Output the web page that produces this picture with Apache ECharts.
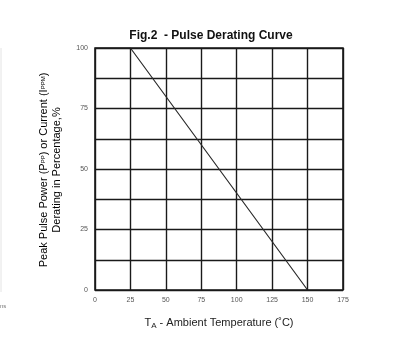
<!DOCTYPE html>
<html>
<head>
<meta charset="utf-8">
<script src="https://cdn.jsdelivr.net/npm/echarts@6/dist/echarts.min.js"></script>
<style>
  html, body { margin: 0; padding: 0; background: #fff; }
  #chart { width: 408px; height: 354px; }
</style>
</head>
<body>
<div id="chart"></div>
<script>
// temperature (°C) vs derating (%)
var temps = [0, 25, 150];
var derating = [100, 100, 0];
var xTicks = [0, 25, 50, 75, 100, 125, 150, 175];
var yTicks = [0, 25, 50, 75, 100];

var chart = echarts.init(document.getElementById('chart'));

var points = temps.map(function (t, i) { return [t, derating[i]]; });

var option = {
    backgroundColor: '#fff',
    animation: false,
    title: {
        text: 'Fig.2  - Pulse Derating Curve',
        left: 206,
        top: 25,
        textAlign: 'center',
        textStyle: { fontFamily: 'Liberation Sans', fontSize: 12, fontWeight: 'bold', color: '#111' }
    },
    grid: { left: 95, right: 65, top: 48, bottom: 64 },
    xAxis: {
        type: 'value',
        min: 0,
        max: 175,
        interval: 25,
        axisLine: { show: false },
        axisTick: { show: false },
        axisLabel: {
            margin: 7,
            fontFamily: 'Liberation Sans',
            fontSize: 7,
            color: '#555',
            formatter: function (v) { return xTicks.indexOf(v) >= 0 ? v : ''; }
        },
        splitLine: { show: true, lineStyle: { color: '#1a1a1a', width: 1.4 } },
        name: '{t|T}{s|A}{t| - Ambient Temperature (˚C)}',
        nameLocation: 'middle',
        nameGap: 26,
        nameTextStyle: {
            rich: {
                t: { fontFamily: 'Liberation Sans', fontSize: 11, color: '#222' },
                s: { fontFamily: 'Liberation Sans', fontSize: 8, color: '#222', verticalAlign: 'bottom', padding: [6, 0, 0, 0] }
            }
        }
    },
    yAxis: {
        type: 'value',
        min: 0,
        max: 100,
        interval: 12.5,
        axisLine: { show: false },
        axisTick: { show: false },
        axisLabel: {
            margin: 7,
            fontFamily: 'Liberation Sans',
            fontSize: 7,
            color: '#555',
            formatter: function (v) { return yTicks.indexOf(v) >= 0 ? v : ''; }
        },
        splitLine: { show: true, lineStyle: { color: '#1a1a1a', width: 1.4 } }
    },
    series: [{
        type: 'line',
        data: points,
        symbol: 'none',
        lineStyle: { color: '#2a2a2a', width: 1.2 },
        z: 3
    }],
    graphic: [
        {
            type: 'rect',
            shape: { x: 95, y: 48, width: 248, height: 242 },
            style: { fill: 'none', stroke: '#1a1a1a', lineWidth: 1.6 },
            z: 10
        },
        {
            type: 'text',
            x: 50,
            y: 170,
            rotation: Math.PI / 2,
            style: {
                text: '{t|Peak Pulse Power (P}{s|PP}{t|) or Current (I}{s|PPM}{t|)}\n{t|Derating in Percentage,%}',
                align: 'center',
                verticalAlign: 'middle',
                lineHeight: 13,
                rich: {
                    t: { fontFamily: 'Liberation Sans', fontSize: 11, color: '#222', lineHeight: 13 },
                    s: { fontFamily: 'Liberation Sans', fontSize: 6, color: '#555', lineHeight: 13 }
                }
            }
        },
        {
            type: 'line',
            shape: { x1: 1, y1: 48, x2: 1, y2: 292 },
            style: { stroke: '#e4e4e4', lineWidth: 1 }
        },
        {
            type: 'text',
            x: 0,
            y: 303,
            style: { text: 'ns', fontFamily: 'Liberation Sans', fontSize: 6, fill: '#777' }
        }
    ]
};

chart.setOption(option);
</script>
</body>
</html>
